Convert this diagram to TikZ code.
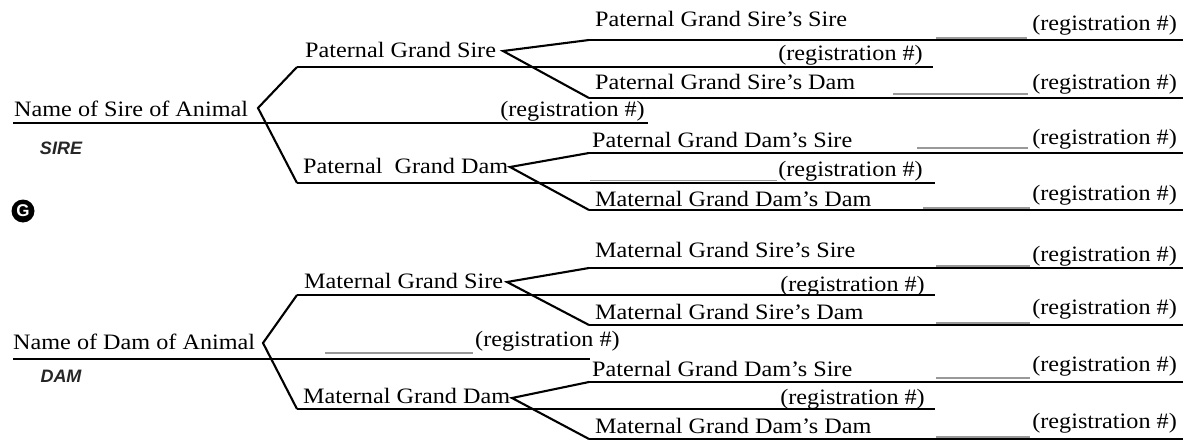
\documentclass[tikz,border=0pt]{standalone}
\usepackage{fontspec}
\setmainfont{Liberation Serif}[FakeStretch=1.1]
\newfontfamily\tagsans{Liberation Sans}
\begin{document}
\begin{tikzpicture}[x=1pt,y=-1pt,
  bar/.style={line width=2.3pt, line cap=butt},
  arm/.style={line width=2.1pt, line join=miter},
  blank/.style={line width=1.8pt, black!40},
  txt/.style={anchor=base west, inner sep=0pt, font=\fontsize{22}{24}\selectfont},
  reg/.style={anchor=base east, inner sep=0pt, font=\fontsize{22}{24}\selectfont},
  tag/.style={inner sep=0pt, text=black!85, font=\tagsans\bfseries\itshape\fontsize{18}{19}\selectfont}]
\useasboundingbox[fill=white] (0,0) rectangle (1183,441);

% ---------- coordinates: sire side ----------
\coordinate (s0) at (13,123);   \coordinate (s1) at (648,123);
\coordinate (sv) at (258,108);
\coordinate (pgs0) at (297,67); \coordinate (pgs1) at (933,67);
\coordinate (pgd0) at (297,183);\coordinate (pgd1) at (935,183);
\coordinate (pgsv) at (503,51);
\coordinate (pgss0) at (589,40); \coordinate (pgss1) at (1183,40);
\coordinate (pgsd0) at (589,98); \coordinate (pgsd1) at (1183,98);
\coordinate (pgdv) at (510,167);
\coordinate (pgds0) at (589,153);\coordinate (pgds1) at (1183,153);
\coordinate (pgdd0) at (589,210);\coordinate (pgdd1) at (1183,210);
% ---------- coordinates: dam side ----------
\coordinate (d0) at (13,359);   \coordinate (d1) at (590,359);
\coordinate (dv) at (263,343);
\coordinate (mgs0) at (297,295); \coordinate (mgs1) at (935,295);
\coordinate (mgd0) at (297,409); \coordinate (mgd1) at (935,409);
\coordinate (mgsv) at (507,282);
\coordinate (mgss0) at (589,268);\coordinate (mgss1) at (1183,268);
\coordinate (mgsd0) at (589,325);\coordinate (mgsd1) at (1183,325);
\coordinate (mgdv) at (512,398);
\coordinate (mgds0) at (589,382);\coordinate (mgds1) at (1183,382);
\coordinate (mgdd0) at (589,439);\coordinate (mgdd1) at (1183,439);

% ---------- blank fill-in lines ----------
\coordinate (b1a) at (936,38);  \coordinate (b1b) at (1027,38);
\coordinate (b2a) at (893,94);  \coordinate (b2b) at (1028,94);
\coordinate (b3a) at (917,148); \coordinate (b3b) at (1028,148);
\coordinate (b4a) at (590,180.5); \coordinate (b4b) at (777,180.5);
\coordinate (b5a) at (923,208); \coordinate (b5b) at (1030,208);
\coordinate (b6a) at (325,353); \coordinate (b6b) at (473,353);
\coordinate (b7a) at (936,266); \coordinate (b7b) at (1030,266);
\coordinate (b8a) at (936,323); \coordinate (b8b) at (1030,323);
\coordinate (b9a) at (936,378); \coordinate (b9b) at (1030,378);
\coordinate (b10a) at (936,437); \coordinate (b10b) at (1030,437);
\foreach \i in {1,...,10} { \draw[blank] (b\i a) -- (b\i b); }

% ---------- lines ----------
\draw[bar] (s0) -- (s1);
\draw[bar] (pgs0) -- (pgs1);
\draw[bar] (pgd0) -- (pgd1);
\draw[bar] (pgss0) -- (pgss1);
\draw[bar] (pgsd0) -- (pgsd1);
\draw[bar] (pgds0) -- (pgds1);
\draw[bar] (pgdd0) -- (pgdd1);
\draw[bar] (d0) -- (d1);
\draw[bar] (mgs0) -- (mgs1);
\draw[bar] (mgd0) -- (mgd1);
\draw[bar] (mgss0) -- (mgss1);
\draw[bar] (mgsd0) -- (mgsd1);
\draw[bar] (mgds0) -- (mgds1);
\draw[bar] (mgdd0) -- (mgdd1);

% ---------- brackets ----------
\draw[arm] (pgs0) -- (sv) -- (pgd0);
\draw[arm] (pgss0) -- (pgsv) -- (pgsd0);
\draw[arm] (pgds0) -- (pgdv) -- (pgdd0);
\draw[arm] (mgs0) -- (dv) -- (mgd0);
\draw[arm] (mgss0) -- (mgsv) -- (mgsd0);
\draw[arm] (mgds0) -- (mgdv) -- (mgdd0);

% ---------- texts: sire side ----------
\node[txt] (tsire) at (14,117) {Name of Sire of Animal};
\node[tag] (lsire) at (61,148) {SIRE};
\node[circle, fill=black, minimum size=23pt, inner sep=0pt, text=white,
      font=\tagsans\bfseries\fontsize{17}{17}\selectfont] (gmark) at (23,211) {G};
\node[reg] (rsire) at (645,117) {(registration \#)};
\node[txt] (tpgs) at (305,58) {Paternal Grand Sire};
\node[txt] (tpgd) at (303,173) {Paternal\ \ Grand Dam};
\node[reg] (rpgs) at (923,61) {(registration \#)};
\node[reg] (rpgd) at (923,176) {(registration \#)};
\node[txt] (tpgss) at (595,27) {Paternal Grand Sire’s Sire};
\node[reg] (rpgss) at (1177,31) {(registration \#)};
\node[txt] (tpgsd) at (595,90) {Paternal Grand Sire’s Dam};
\node[reg] (rpgsd) at (1177,90) {(registration \#)};
\node[txt] (tpgds) at (592,147) {Paternal Grand Dam’s Sire};
\node[reg] (rpgds) at (1177,145) {(registration \#)};
\node[txt] (tpgdd) at (595,206) {Maternal Grand Dam’s Dam};
\node[reg] (rpgdd) at (1177,200) {(registration \#)};

% ---------- texts: dam side ----------
\node[txt] (tdam) at (13,349) {Name of Dam of Animal};
\node[tag] (ldam) at (61,376) {DAM};
\node[txt] (rdam) at (475,346) {(registration \#)};
\node[txt] (tmgs) at (304,288) {Maternal Grand Sire};
\node[txt] (tmgd) at (303,403) {Maternal Grand Dam};
\node[reg] (rmgs) at (925,291) {(registration \#)};
\node[reg] (rmgd) at (925,404) {(registration \#)};
\node[txt] (tmgss) at (595,257) {Maternal Grand Sire’s Sire};
\node[reg] (rmgss) at (1177,261) {(registration \#)};
\node[txt] (tmgsd) at (595,319) {Maternal Grand Sire’s Dam};
\node[reg] (rmgsd) at (1177,314) {(registration \#)};
\node[txt] (tmgds) at (592,376) {Paternal Grand Dam’s Sire};
\node[reg] (rmgds) at (1177,371) {(registration \#)};
\node[txt] (tmgdd) at (595,433) {Maternal Grand Dam’s Dam};
\node[reg] (rmgdd) at (1177,428) {(registration \#)};
\end{tikzpicture}
\end{document}
